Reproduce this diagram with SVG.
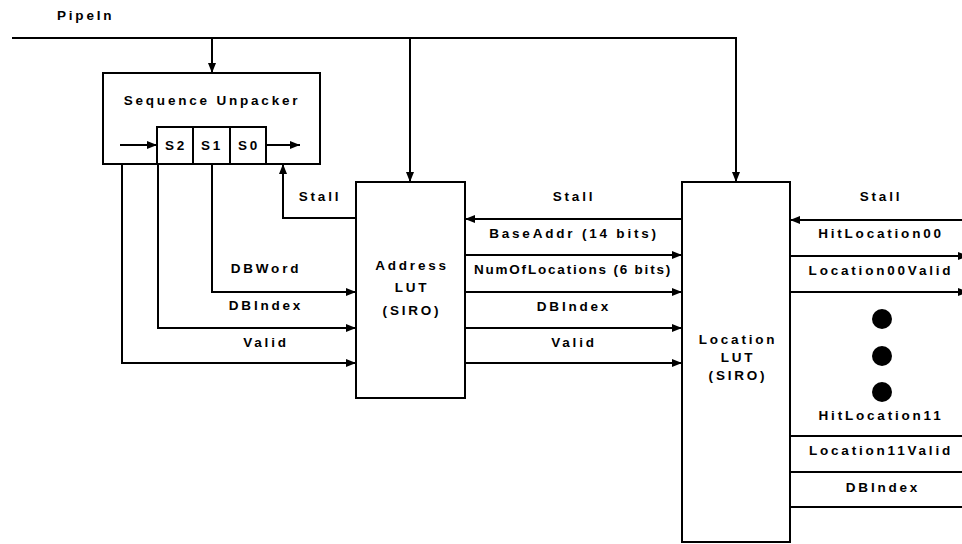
<svg xmlns="http://www.w3.org/2000/svg" width="962" height="544" viewBox="0 0 962 544">
<defs>
<style>
.t{font-family:"Liberation Sans",Arial,sans-serif;font-weight:bold;font-size:13.5px;letter-spacing:2.8px;fill:#000;text-anchor:middle}
.box{fill:#fff;stroke:#000;stroke-width:2}
.w{fill:none;stroke:#000;stroke-width:2}
</style>
<marker id="ah" viewBox="0 0 10 8" refX="10" refY="4" markerWidth="10" markerHeight="8" markerUnits="userSpaceOnUse" orient="auto">
<path d="M0,0 L10,4 L0,8 Z" fill="#000"/>
</marker>
</defs>
<rect width="962" height="544" fill="#fff"/>
<text class="t" x="57" y="20" style="text-anchor:start">PipeIn</text>

<g id="sequence-unpacker">
<rect class="box" x="103" y="73" width="217" height="91"/>
<text class="t" x="212" y="105">Sequence Unpacker</text>
<rect class="box" x="157" y="127" width="109" height="37"/>
<path class="w" d="M193,127 V164 M230,127 V164"/>
<text class="t" x="176" y="150">S2</text>
<text class="t" x="212" y="150">S1</text>
<text class="t" x="249" y="150">S0</text>
</g>

<g id="address-lut">
<rect class="box" x="356" y="182" width="109" height="216"/>
<text class="t" x="412" y="270">Address</text>
<text class="t" x="412" y="292">LUT</text>
<text class="t" x="412" y="315">(SIRO)</text>
</g>

<g id="location-lut">
<rect class="box" x="682" y="182" width="108" height="360"/>
<text class="t" x="738" y="344">Location</text>
<text class="t" x="738" y="362">LUT</text>
<text class="t" x="738" y="380">(SIRO)</text>
</g>

<g id="connectors">
<path class="w" d="M12,38 H736 V182" marker-end="url(#ah)"/>
<path class="w" d="M212,38 V73" marker-end="url(#ah)"/>
<path class="w" d="M410,38 V182" marker-end="url(#ah)"/>
<path class="w" d="M120,145 H157" marker-end="url(#ah)"/>
<path class="w" d="M266,145 H300" marker-end="url(#ah)"/>
<path class="w" d="M356,218 H283 V164" marker-end="url(#ah)"/>
<path class="w" d="M212,164 V292 H356" marker-end="url(#ah)"/>
<path class="w" d="M158,164 V328 H356" marker-end="url(#ah)"/>
<path class="w" d="M122,164 V363 H356" marker-end="url(#ah)"/>
<path class="w" d="M682,219 H465" marker-end="url(#ah)"/>
<path class="w" d="M465,255 H682" marker-end="url(#ah)"/>
<path class="w" d="M465,292 H682" marker-end="url(#ah)"/>
<path class="w" d="M465,328 H682" marker-end="url(#ah)"/>
<path class="w" d="M465,363 H682" marker-end="url(#ah)"/>
<path class="w" d="M962,220 H790" marker-end="url(#ah)"/>
<path class="w" d="M790,256 H968" marker-end="url(#ah)"/>
<path class="w" d="M790,292 H968" marker-end="url(#ah)"/>
<path class="w" d="M790,436 H962"/>
<path class="w" d="M790,472 H962"/>
<path class="w" d="M790,507 H962"/>
<text class="t" x="320" y="201">Stall</text>
<text class="t" x="266" y="273">DBWord</text>
<text class="t" x="266" y="310">DBIndex</text>
<text class="t" x="266" y="347">Valid</text>
<text class="t" x="574" y="201">Stall</text>
<text class="t" x="574" y="238">BaseAddr (14 bits)</text>
<text class="t" x="573" y="274" style="letter-spacing:1.8px">NumOfLocations (6 bits)</text>
<text class="t" x="574" y="311">DBIndex</text>
<text class="t" x="574" y="347">Valid</text>
<text class="t" x="881" y="201">Stall</text>
<text class="t" x="881" y="238">HitLocation00</text>
<text class="t" x="881" y="275">Location00Valid</text>
<circle cx="882" cy="319" r="10" fill="#000"/>
<circle cx="882" cy="356" r="10" fill="#000"/>
<circle cx="882" cy="392" r="10" fill="#000"/>
<text class="t" x="881" y="420">HitLocation11</text>
<text class="t" x="881" y="455">Location11Valid</text>
<text class="t" x="883" y="492">DBIndex</text>
</g>
</svg>
